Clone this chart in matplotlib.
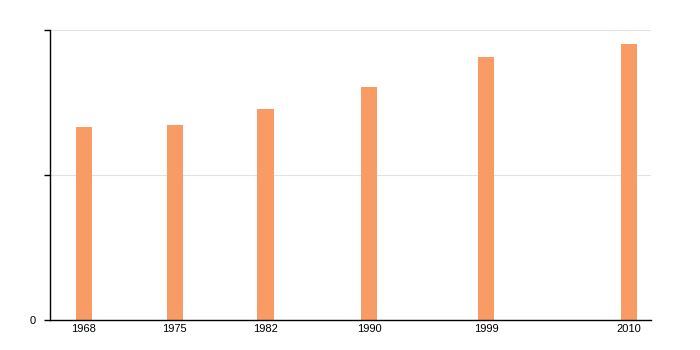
import matplotlib
matplotlib.use('Agg')
import matplotlib.pyplot as plt

years = [1968, 1975, 1982, 1990, 1999, 2010]
values = [666, 672, 728, 802, 906, 952]
ymax = 1000

plt.rcParams['font.family'] = ['Liberation Sans', 'DejaVu Sans']

fig = plt.figure(figsize=(7, 3.5), dpi=100)
ax = fig.add_axes([50 / 700, 30 / 350, 601 / 700, 290 / 350])

ax.bar(years, values, width=1.25, color='#f99b64', zorder=2)

ax.set_xlim(1965.4, 2011.7)
ax.set_ylim(0, ymax)
ax.set_xticks(years)
ax.set_xticklabels([str(y) for y in years], fontsize=8)
ax.set_yticks([0, ymax / 2, ymax])
ax.set_yticklabels(['0', '', ''], fontsize=8)
ax.tick_params(axis='x', length=0, pad=3)
ax.tick_params(axis='y', length=4, width=1, pad=6)

ax.grid(axis='y', color='#e2e2e2', linewidth=0.8, zorder=0)
ax.spines['top'].set_visible(False)
ax.spines['right'].set_visible(False)
ax.spines['left'].set_linewidth(1)
ax.spines['bottom'].set_linewidth(1)

fig.savefig('out.png', dpi=100)
